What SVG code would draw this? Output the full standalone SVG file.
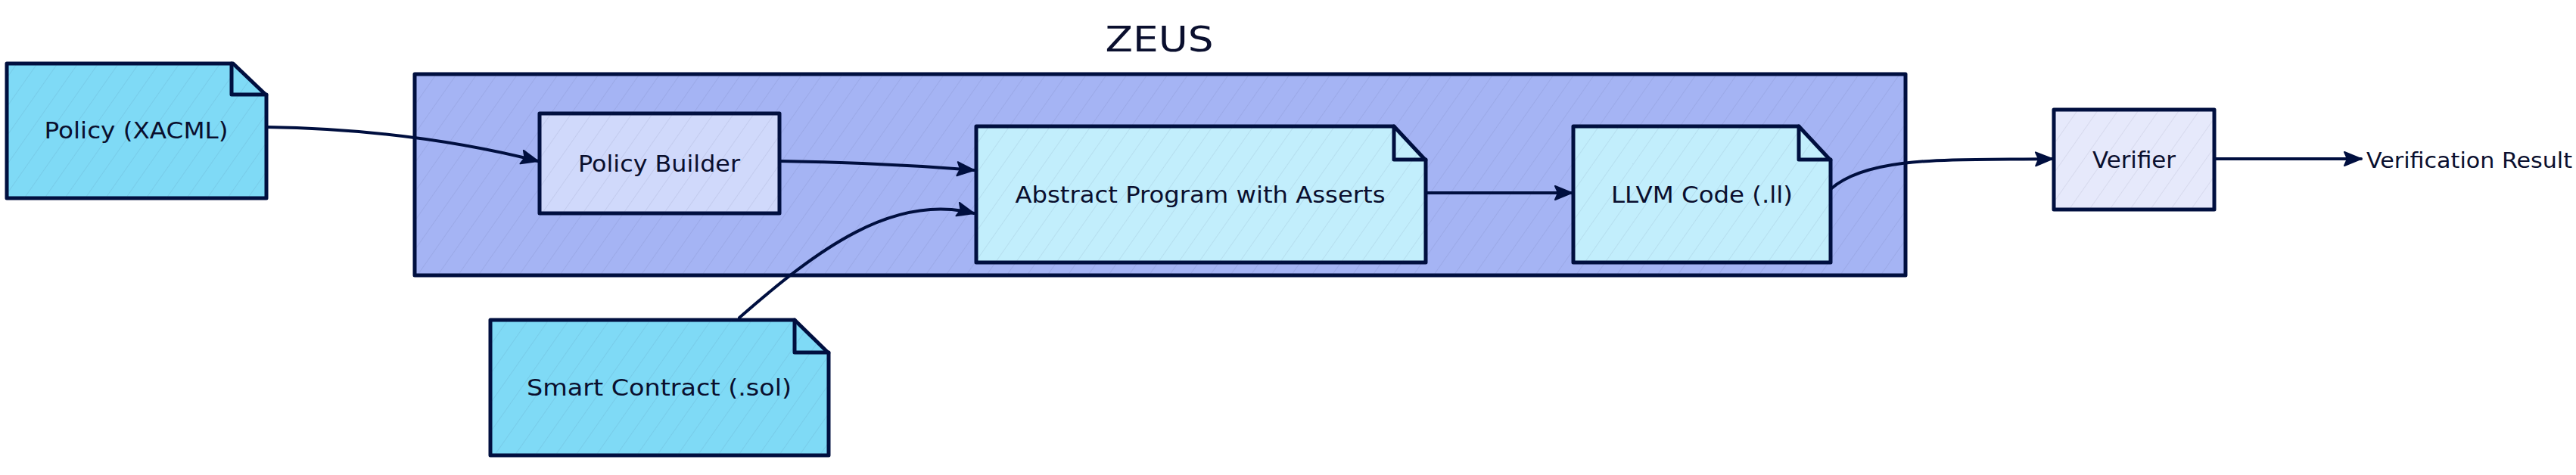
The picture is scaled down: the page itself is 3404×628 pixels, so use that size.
<svg xmlns="http://www.w3.org/2000/svg" width="3404" height="628" viewBox="0 0 3404 628">
<style>
.shape{stroke:#000f3f;stroke-width:5;stroke-linejoin:round;stroke-linecap:round}
.hatch{fill:url(#hatch);stroke:none}
.fold{fill:none;stroke:#000f3f;stroke-width:5;stroke-linejoin:round;stroke-linecap:round}
.conn{fill:none;stroke:#000f3f;stroke-width:4;stroke-linecap:round;marker-end:url(#arrow)}
.lbl{font-family:"DejaVu Sans","Liberation Sans",sans-serif;font-size:30px;fill:#0a0f2e;text-anchor:middle}
.doc{fill:#7fdaf6}
.doc2{fill:#c2eefc}
</style>
<defs>
<pattern id="hatch" width="22" height="22" patternUnits="userSpaceOnUse" patternTransform="rotate(35)">
<line x1="0" y1="0" x2="0" y2="22" stroke="#1a2550" stroke-opacity="0.10" stroke-width="1.5"/>
</pattern>
<marker id="arrow" markerUnits="userSpaceOnUse" markerWidth="26" markerHeight="22" refX="24" refY="11" orient="auto">
<path d="M2,2 L24,11 L2,20 L6,11 Z" fill="#000f3f" stroke="#000f3f" stroke-width="2" stroke-linejoin="round"/>
</marker>
</defs>
<rect width="3404" height="628" fill="#ffffff"/>

<g id="zeus">
<rect class="shape" x="548" y="98" width="1970" height="266" fill="#a5b4f4"/>
<rect class="hatch" x="548" y="98" width="1970" height="266"/>
<text x="1532" y="68" font-family="DejaVu Sans, Liberation Sans, sans-serif" font-size="46" fill="#0a0f2e" text-anchor="middle" textLength="143" lengthAdjust="spacingAndGlyphs">ZEUS</text>
</g>

<g id="policy-xacml">
<path class="shape doc" d="M9,84 H308 L352,126 V262 H9 Z"/>
<path class="hatch" d="M9,84 H308 L352,126 V262 H9 Z"/>
<path class="fold" d="M306,84 V125 H352"/>
<text class="lbl" x="180" y="183" textLength="243" lengthAdjust="spacingAndGlyphs">Policy (XACML)</text>
</g>

<g id="policy-builder">
<rect class="shape" x="713" y="150" width="317" height="132" fill="#d0d9fb"/>
<rect class="hatch" x="713" y="150" width="317" height="132"/>
<text class="lbl" x="871" y="227" textLength="214" lengthAdjust="spacingAndGlyphs">Policy Builder</text>
</g>

<g id="abstract-program">
<path class="shape doc2" d="M1290,167 H1842 L1884,212 V347 H1290 Z"/>
<path class="hatch" d="M1290,167 H1842 L1884,212 V347 H1290 Z"/>
<path class="fold" d="M1842,167 V211 H1884"/>
<text class="lbl" x="1586" y="268" textLength="489" lengthAdjust="spacingAndGlyphs">Abstract Program with Asserts</text>
</g>

<g id="llvm-code">
<path class="shape doc2" d="M2079,167 H2377 L2419,212 V347 H2079 Z"/>
<path class="hatch" d="M2079,167 H2377 L2419,212 V347 H2079 Z"/>
<path class="fold" d="M2377,167 V211 H2419"/>
<text class="lbl" x="2249" y="268" textLength="240" lengthAdjust="spacingAndGlyphs">LLVM Code (.ll)</text>
</g>

<g id="verifier">
<rect class="shape" x="2714" y="145" width="212" height="132" fill="#e6e9fb"/>
<rect class="hatch" x="2714" y="145" width="212" height="132"/>
<text class="lbl" x="2820" y="222" textLength="110" lengthAdjust="spacingAndGlyphs">Verifier</text>
</g>

<g id="smart-contract">
<path class="shape doc" d="M648,423 H1050 L1095,467 V602 H648 Z"/>
<path class="hatch" d="M648,423 H1050 L1095,467 V602 H648 Z"/>
<path class="fold" d="M1050,423 V466 H1095"/>
<text class="lbl" x="871" y="523" textLength="350" lengthAdjust="spacingAndGlyphs">Smart Contract (.sol)</text>
</g>

<g id="verification-result">
<text x="3127" y="222" font-family="DejaVu Sans, Liberation Sans, sans-serif" font-size="28" fill="#0a0f2e" textLength="272" lengthAdjust="spacingAndGlyphs">Verification Result</text>
</g>

<g id="connectors">
<path class="conn" d="M352,168 C480,170 600,185 711,213"/>
<path class="conn" d="M1030,213 C1120,214 1200,218 1287,225"/>
<path class="conn" d="M977,420 C1080,330 1180,255 1287,282"/>
<path class="conn" d="M1884,255 L2077,255"/>
<path class="conn" d="M2419,250 C2470,205 2580,212 2712,210"/>
<path class="conn" d="M2926,210 L3120,210"/>
</g>
</svg>
